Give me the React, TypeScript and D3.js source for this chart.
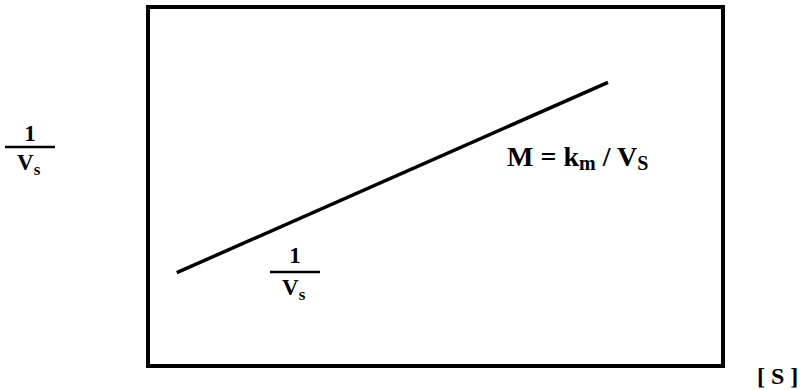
import React from "react";
import * as d3 from "d3";

// Schematic data: substrate concentration [S] vs 1/Vs
const sConc: number[] = [0.5, 8.0];
const invV: number[] = [2.6, 7.9];
const xDomain: number[] = [0, 10];
const yDomain: number[] = [0, 10];
const slopeLabel = "M = k";
const axisXLabel = "[ S ]";

const W = 808;
const H = 390;
const FONT = "'Liberation Serif', 'Times New Roman', serif";

export default function App() {
  const x = d3.scaleLinear().domain(xDomain).range([148, 723]);
  const y = d3.scaleLinear().domain(yDomain).range([366, 7]);
  const pts = sConc.map((s, i) => [s, invV[i]] as [number, number]);
  const line = d3
    .line<[number, number]>()
    .x((d) => x(d[0]))
    .y((d) => y(d[1]));

  const frac = (cx: number, topBase: number, barY: number, botBase: number, key: string) => (
    <g key={key} fontFamily={FONT} fontWeight="bold" fill="#000">
      <text x={cx} y={topBase} fontSize={23} textAnchor="middle">1</text>
      <line x1={cx - 25} x2={cx + 25} y1={barY} y2={barY} stroke="#000" strokeWidth={2.5} />
      <text x={cx - 13} y={botBase} fontSize={23}>
        V<tspan fontSize={17} dy={5}>s</tspan>
      </text>
    </g>
  );

  return (
    <svg
      width={W}
      height={H}
      style={{ position: "absolute", left: 0, top: 0, background: "#fff" }}
    >
      <rect x={0} y={0} width={W} height={H} fill="#fff" />
      <rect
        x={x(xDomain[0])}
        y={y(yDomain[1])}
        width={x(xDomain[1]) - x(xDomain[0])}
        height={y(yDomain[0]) - y(yDomain[1])}
        fill="none"
        stroke="#000"
        strokeWidth={4}
      />
      <path d={line(pts) || ""} fill="none" stroke="#000" strokeWidth={3.5} />
      {frac(30, 141, 147, 170, "left")}
      {frac(295, 263, 272, 295, "mid")}
      <text x={507} y={166} fontFamily={FONT} fontWeight="bold" fontSize={28} fill="#000">
        {slopeLabel}
        <tspan fontSize={20} dy={4}>m</tspan>
        <tspan dy={-4}> / V</tspan>
        <tspan fontSize={20} dy={4}>S</tspan>
      </text>
      <text x={757} y={384} fontFamily={FONT} fontWeight="bold" fontSize={24} fill="#000">
        {axisXLabel}
      </text>
    </svg>
  );
}
